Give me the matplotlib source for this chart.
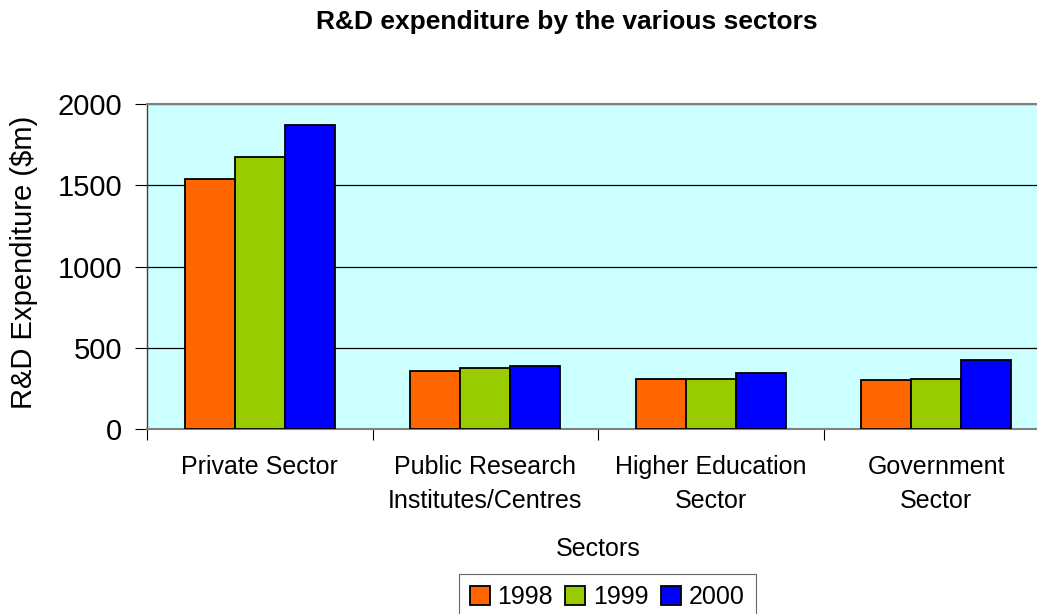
import matplotlib
matplotlib.use("Agg")
import matplotlib.pyplot as plt
import numpy as np

plt.rcParams['font.family'] = ['Liberation Sans', 'DejaVu Sans']

categories = ["Private Sector", "Public Research\nInstitutes/Centres", "Higher Education\nSector", "Government\nSector"]
years = ["1998", "1999", "2000"]
values = {
    "1998": [1540, 354, 306, 302],
    "1999": [1673, 374, 310, 306],
    "2000": [1870, 385, 343, 426],
}
colors = {"1998": "#FF6600", "1999": "#99CC00", "2000": "#0000FF"}
yticks = [0, 500, 1000, 1500, 2000]

fig = plt.figure(figsize=(10.37, 6.14), dpi=100)
ax = fig.add_axes([147/1037, 185/614, (1049-147)/1037, (429-104)/614])
ax.set_facecolor("#CCFFFF")

n = len(categories)
x = np.arange(n)
w = 1/4.5
for i, y in enumerate(years):
    ax.bar(x + (i-1)*w, values[y], width=w, color=colors[y], edgecolor="black",
           linewidth=1.3, label=y, zorder=3)

ax.set_xlim(-0.5, n-0.5)
ax.set_ylim(0, 2000)
ax.set_yticks(yticks)
ax.set_yticklabels([str(t) for t in yticks], fontsize=21)
ax.yaxis.grid(True, color="black", linewidth=0.9, zorder=1)
ax.set_axisbelow(True)

ax.set_xticks(x)
ax.set_xticklabels(categories, fontsize=18, linespacing=1.5)
ax.tick_params(axis='x', which='major', length=0, pad=19)
ax.set_xticks(np.arange(n+1)-0.5, minor=True)
ax.tick_params(axis='x', which='minor', length=8, color="black", width=0.8)
ax.tick_params(axis='y', length=9, color="black", width=0.8, pad=9)

for s in ["top", "right", "bottom"]:
    ax.spines[s].set_color("#808080")
    ax.spines[s].set_linewidth(1.5)
ax.spines["left"].set_color("#404040")
ax.spines["left"].set_linewidth(1.0)

ax.set_ylabel("R&D Expenditure ($m)", fontsize=21)
ax.yaxis.set_label_coords((38-147)/902, (429-262)/325)
ax.set_xlabel("Sectors", fontsize=18, labelpad=17)

fig.text(567/1037, 1-22/614, "R&D expenditure by the various sectors", fontsize=19,
         fontweight="bold", ha="center", va="center")

leg = fig.legend(loc="upper center", bbox_to_anchor=(607/1037, 1-574/614), ncol=3, fontsize=18,
                 frameon=True, fancybox=False, edgecolor="#404040", handlelength=0.8,
                 handleheight=0.8, handletextpad=0.3, columnspacing=0.5, borderpad=0.45,
                 borderaxespad=0)
leg.get_frame().set_linewidth(0.8)

fig.savefig("out.png", dpi=100)
